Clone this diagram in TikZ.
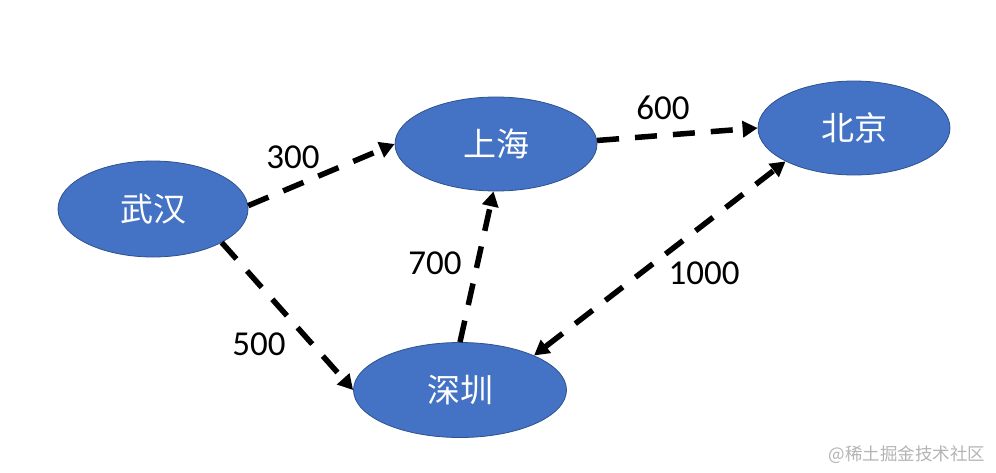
\documentclass[tikz,border=0pt]{standalone}
\usepackage{fontspec}
\setmainfont{Carlito}
\newfontfamily\cjk{Noto Sans CJK SC}
\usetikzlibrary{shapes.geometric,arrows.meta}
\definecolor{cityblue}{HTML}{4472C4}
\definecolor{citybd}{HTML}{2F528F}
\definecolor{wmgray}{HTML}{B4B4B4}
\begin{document}
\begin{tikzpicture}[x=1pt,y=-1pt,
  city/.style={ellipse, draw=citybd, fill=cityblue, line width=0.8pt, inner sep=0pt,
    text=white, font=\cjk\fontsize{33}{40}\selectfont},
  link/.style={line width=5.5pt, dash pattern=on 22pt off 16pt,
    -{Triangle[length=15pt,width=16pt]}},
  dlink/.style={line width=5.5pt, dash pattern=on 22pt off 16pt,
    {Triangle[length=15pt,width=16pt]}-{Triangle[length=15pt,width=16pt]}},
  lbl/.style={font=\fontsize{35}{40}\selectfont, inner sep=0pt},
  wm/.style={font=\cjk\fontsize{17.5}{20}\selectfont, text=wmgray, inner sep=0pt}]
\useasboundingbox (0,0) rectangle (996,472);
\fill[white] (0,0) rectangle (996,472);

\node[city, minimum width=190pt, minimum height=96pt] (wh) at (153,209) {武汉};
\node[city, minimum width=202pt, minimum height=94pt] (sh) at (496,144) {上海};
\node[city, minimum width=192pt, minimum height=94pt] (bj) at (854,128) {北京};
\node[city, minimum width=213pt, minimum height=95pt] (sz) at (460,390) {深圳};

\draw[link] (wh.2) -- (sh.180);
\draw[link] (sh.2) -- (bj.180);
\draw[link] (wh.-26) -- (sz.180);
\draw[link] (sz.90) -- (sh.-93);
\draw[dlink] (sz.25) -- (bj.206.6);

\node[lbl] (l300) at (293,157) {300};
\node[lbl] (l600) at (663,108) {600};
\node[lbl] (l500) at (259,344) {500};
\node[lbl] (l700) at (435,263) {700};
\node[lbl] (l1000) at (704,273) {1000};

\node[wm] (wmk) at (907,455) {@稀土掘金技术社区};
\end{tikzpicture}
\end{document}
